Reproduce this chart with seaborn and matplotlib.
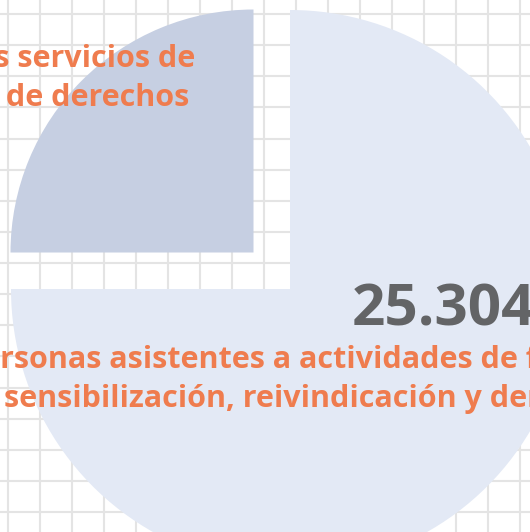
import matplotlib
matplotlib.use("Agg")
import matplotlib.pyplot as plt
import seaborn as sns
import numpy as np

# ---- data ----
categories = ["Personas atendidas en los servicios de\ninformación y defensa de derechos",
              "Personas asistentes a actividades de formación,\nsensibilización, reivindicación y denuncia"]
values = [8435, 25304]
value_labels = ["8.435", "25.304"]
colors = ["#C6CFE2", "#E3E9F5"]

sns.set_theme(style="whitegrid", rc={"grid.color": "#e4e4e4", "grid.linewidth": 1.5,
                                     "axes.facecolor": "white", "figure.facecolor": "white"})
plt.rcParams["font.family"] = ["Open Sans", "DejaVu Sans"]

W, H = 530, 532
fig = plt.figure(figsize=(W / 100, H / 100), dpi=100)
ax = fig.add_axes([0, 0, 1, 1])

R = 279
cx, cy = 290, H - 289
wedges, _ = ax.pie(values, colors=colors, startangle=90, counterclock=True,
                   radius=R, center=(cx, cy), explode=[0.185 * R, 0],
                   wedgeprops=dict(linewidth=0))
wedges[0].set_radius(243)

ax.set_xlim(0, W)
ax.set_ylim(0, H)
ax.set_aspect("auto")
ax.set_xticks(np.arange(8, W, 32))
ax.set_yticks(H - (14 + 31.125 * np.arange(0, 17)))
ax.set_xticklabels([])
ax.set_yticklabels([])
ax.tick_params(length=0)
ax.grid(True)
ax.set_axisbelow(True)
for s in ax.spines.values():
    s.set_visible(False)

orange = "#EF7C4E"
gray = "#636466"
fs = 22

# big slice labels
ax.text(352, H - 325, value_labels[1], ha="left", va="baseline", fontsize=42,
        fontweight="bold", color=gray, zorder=5)
l1, l2 = categories[1].split("\n")
ax.text(327, H - 368, l1, ha="center", va="baseline", fontsize=fs,
        fontweight="bold", color=orange, zorder=5)
ax.text(317, H - 407, l2, ha="center", va="baseline", fontsize=fs,
        fontweight="bold", color=orange, zorder=5)

# small slice labels
s1, s2 = categories[0].split("\n")
ax.text(195, H - 67, s1, ha="right", va="baseline", fontsize=fs,
        fontweight="bold", color=orange, zorder=5)
ax.text(189, H - 106, s2, ha="right", va="baseline", fontsize=fs,
        fontweight="bold", color=orange, zorder=5)

fig.savefig("out.png", dpi=100)
